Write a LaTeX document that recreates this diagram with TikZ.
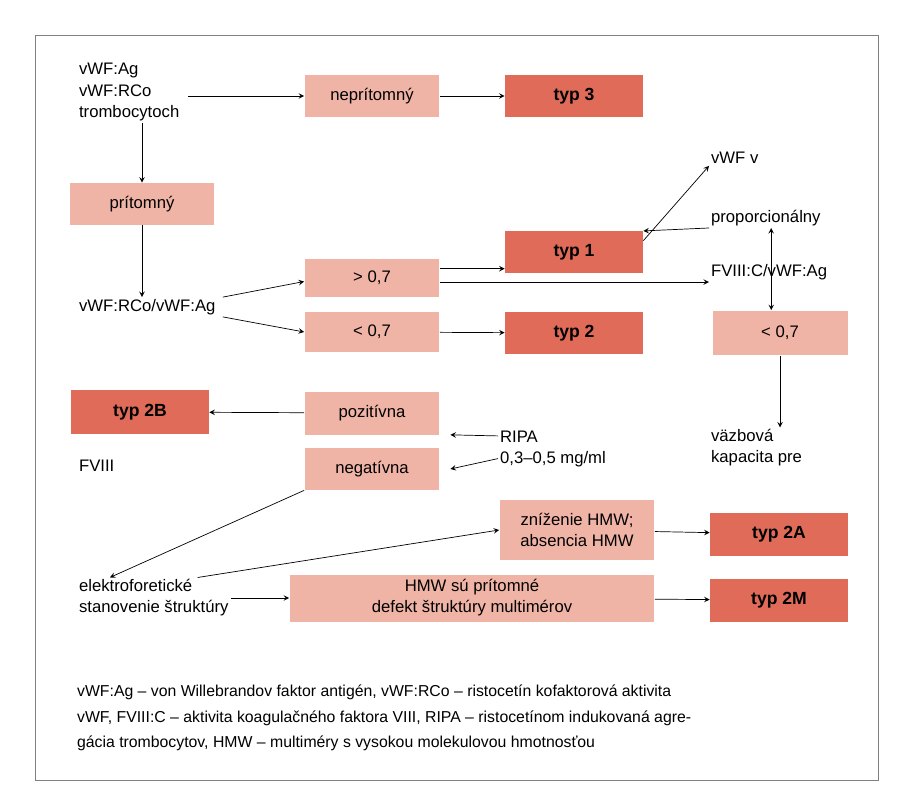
\documentclass[tikz,border=0pt]{standalone}
\usepackage{fontspec}
\setmainfont{Liberation Sans}
\usetikzlibrary{positioning}
\definecolor{boxlight}{HTML}{F0B4A6}
\definecolor{boxdark}{HTML}{E06B58}
\tikzset{
  lbox/.style={fill=boxlight,minimum width=2.7cm,minimum height=0.84cm,inner sep=2pt,align=center},
  dbox/.style={fill=boxdark,minimum width=2.76cm,minimum height=0.86cm,font=\bfseries},
  txt/.style={align=left,inner sep=1pt,anchor=west},
  arr/.style={->,>=stealth}
}
\begin{document}
\begin{tikzpicture}[x=0.02cm,y=-0.02cm,font=\fontsize{9.5}{12}\selectfont]
  \useasboundingbox (0,0) rectangle (911,800);
  \draw[gray] (35,35) rectangle (878,780);
  % nodes
  \node[txt] (trom) at (77,92) {vWF:Ag\\vWF:RCo\\trombocytoch};
  \node[lbox] (nepr) at (372,96) {neprítomný};
  \node[dbox] (typ3) at (574,96) {typ 3};
  \node[lbox,minimum width=2.9cm] (prit) at (142,204) {prítomný};
  \node[txt] (ratio) at (77,307) {vWF:RCo/vWF:Ag};
  \node[lbox,minimum height=0.78cm] (gt) at (372,278) {> 0,7};
  \node[lbox,minimum height=0.8cm] (lt) at (372,332) {< 0,7};
  \node[dbox] (typ1) at (574,252) {typ 1};
  \node[dbox] (typ2) at (574,333) {typ 2};
  \node[txt] (vwfv) at (709,158) {vWF v};
  \node[txt] (prop) at (709,218) {proporcionálny};
  \node[txt] (fviiic) at (709,272) {FVIII:C/vWF:Ag};
  \node[lbox,minimum height=0.9cm] (ltr) at (780,333) {< 0,7};
  \node[txt] (vazb) at (709,448) {väzbová\\kapacita pre};
  \node[dbox,minimum height=0.9cm] (typ2B) at (140,412) {typ 2B};
  \node[lbox,minimum height=0.86cm] (poz) at (372,413) {pozitívna};
  \node[lbox] (neg) at (372,469) {negatívna};
  \node[txt] (ripa) at (498,449) {RIPA\\0,3–0,5 mg/ml};
  \node[txt] (fviii) at (77,466) {FVIII};
  \node[lbox,minimum width=3.1cm,minimum height=1.2cm] (zniz) at (577,530) {zníženie HMW;\\absencia HMW};
  \node[dbox] (typ2A) at (779,534) {typ 2A};
  \node[txt] (elek) at (77,598) {elektroforetické\\stanovenie štruktúry};
  \node[lbox,minimum width=7.3cm,minimum height=0.94cm] (hmw) at (472,598) {HMW sú prítomné\\defekt štruktúry multimérov};
  \node[dbox] (typ2M) at (779,600) {typ 2M};
  \node[txt,anchor=north west,font=\fontsize{9}{14.5}\selectfont] (note) at (75,683)
    {vWF:Ag – von Willebrandov faktor antigén, vWF:RCo – ristocetín kofaktorová aktivita\\
     vWF, FVIII:C – aktivita koagulačného faktora VIII, RIPA – ristocetínom indukovaná agre-\\
     gácia trombocytov, HMW – multiméry s vysokou molekulovou hmotnosťou};
  % connectors
  \draw[arr] ([xshift=4pt]trom.east |- nepr) -- (nepr);
  \draw[arr] (nepr) -- (typ3);
  \draw[arr] (trom.south -| prit) -- (prit);
  \draw[arr] (prit) -- (ratio.north -| prit);
  \draw[arr] ([xshift=3pt]ratio.north east) -- ([yshift=-2pt]gt.west);
  \draw[arr] ([xshift=3pt]ratio.south east) -- (lt.west);
  \draw[arr] ([yshift=-6pt]gt.north east) -- ([yshift=-6pt]gt.north east -| typ1.west);
  \draw[arr] ([yshift=9pt]gt.south east) -- ([yshift=9pt]gt.south east -| fviiic.west);
  \draw[arr] (lt) -- (typ2);
  \draw[arr] ([yshift=-6pt]typ1.north east) -- (vwfv.south west);
  \draw[arr] (prop.south west) -- ([yshift=12pt]typ1.east);
  \draw[<->,>=stealth] ([xshift=-5pt]prop.south -| ltr) -- ([xshift=-5pt]ltr.north);
  \draw[arr] (ltr) -- (vazb.north -| ltr);
  \draw[arr] (poz) -- (typ2B);
  \draw[arr] ([yshift=-4pt]ripa.north west) -- ([xshift=6pt]poz.south east);
  \draw[arr] ([yshift=6pt]ripa.south west) -- ([xshift=6pt]neg.east);
  \draw[arr] (neg.south west) -- ([xshift=-25pt]elek.north);
  \draw[arr] ([xshift=25pt]elek.north) -- (zniz.west);
  \draw[arr] (elek.east) -- (hmw.west);
  \draw[arr] (zniz) -- (typ2A);
  \draw[arr] (hmw) -- (typ2M);
\end{tikzpicture}
\end{document}
